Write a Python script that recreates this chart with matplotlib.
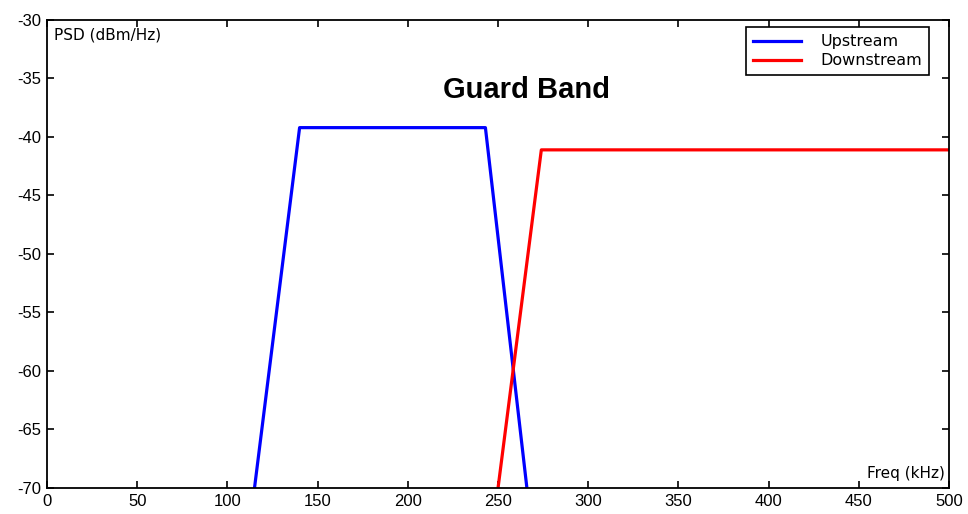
import matplotlib

matplotlib.use("Agg")
import matplotlib.pyplot as plt

# Spectrum corner points
up_freq = [115, 140, 243, 266]
up_psd = [-70, -39.2, -39.2, -70]
down_freq = [250, 274, 500]
down_psd = [-70, -41.1, -41.1]

x_ticks = [0, 50, 100, 150, 200, 250, 300, 350, 400, 450, 500]
y_ticks = [-70, -65, -60, -55, -50, -45, -40, -35, -30]

plt.rcParams["font.family"] = ["Liberation Sans", "DejaVu Sans"]
plt.rcParams["axes.unicode_minus"] = False

fig = plt.figure(figsize=(9.68, 5.14), dpi=100)
ax = fig.add_axes([0.0486, 0.0506, 0.9318, 0.9105])

ax.plot(up_freq, up_psd, color="#0000ff", linewidth=2.3, label="Upstream")
ax.plot(down_freq, down_psd, color="#ff0000", linewidth=2.3, label="Downstream")

ax.set_xlim(0, 500)
ax.set_ylim(-70, -30)
ax.set_xticks(x_ticks)
ax.set_yticks(y_ticks)
ax.tick_params(direction="in", top=True, right=True, length=5, width=1.2,
               labelsize=12, pad=4)
for s in ax.spines.values():
    s.set_linewidth(1.3)

# axis labels drawn inside the box, like the original
ax.text(0.008, 0.985, "PSD (dBm/Hz)", transform=ax.transAxes,
        ha="left", va="top", fontsize=11, family="DejaVu Sans")
ax.text(0.995, 0.015, "Freq (kHz)", transform=ax.transAxes,
        ha="right", va="bottom", fontsize=11, family="DejaVu Sans")

ax.text(266, -36.0, "Guard Band", ha="center", va="center",
        fontsize=21, fontweight="bold")

leg = ax.legend(loc="upper right", bbox_to_anchor=(0.978, 0.985),
                fancybox=False, edgecolor="black", framealpha=1,
                prop={"family": "DejaVu Sans", "size": 11.5},
                handlelength=3.0, borderpad=0.45, labelspacing=0.25,
                handletextpad=1.2, borderaxespad=0)
leg.get_frame().set_linewidth(1.2)

fig.savefig("out.png", dpi=100)
